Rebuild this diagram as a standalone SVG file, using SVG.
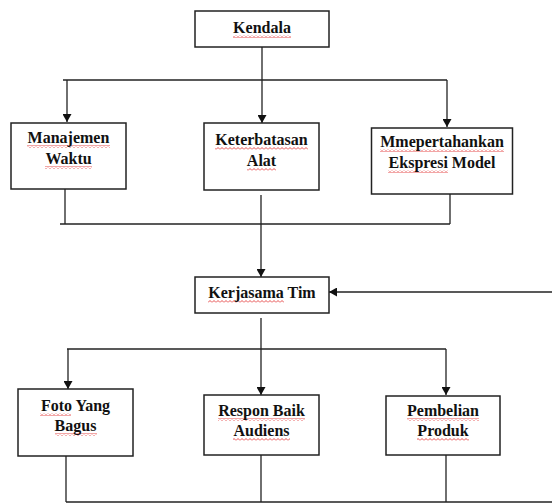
<svg xmlns="http://www.w3.org/2000/svg" width="552" height="503" viewBox="0 0 552 503">
<style>
.box{fill:#fff;stroke:#222;stroke-width:1.5}
.ln{fill:none;stroke:#222;stroke-width:1.3}
text{font-family:'Liberation Serif','Times New Roman','DejaVu Serif',serif;font-weight:700;font-size:16px;fill:#111;text-anchor:middle}
.sq{fill:url(#wave)}
</style>
<defs>
<marker id="ah" markerUnits="userSpaceOnUse" markerWidth="8" markerHeight="9" refX="8" refY="4.5" orient="auto">
<path d="M0,0 L8,4.5 L0,9 z" fill="#111"/>
</marker>
<pattern id="wave" patternUnits="userSpaceOnUse" width="4" height="3">
<path d="M0,2.5 L2,0.5 L4,2.5" fill="none" stroke="#e02020" stroke-width="0.8"/>
</pattern>
</defs>
<rect width="552" height="503" fill="#fff"/>
<g id="connectors">
<path class="ln" d="M262,47 V80"/>
<path class="ln" d="M63,80 H447"/>
<path class="ln" d="M67,80 V122" marker-end="url(#ah)"/>
<path class="ln" d="M262,80 V123" marker-end="url(#ah)"/>
<path class="ln" d="M447,80 V127" marker-end="url(#ah)"/>
<path class="ln" d="M65,189 V224"/>
<path class="ln" d="M450,194 V224"/>
<path class="ln" d="M60,224 H450"/>
<path class="ln" d="M261,195 V277" marker-end="url(#ah)"/>
<path class="ln" d="M552,292 H329" marker-end="url(#ah)"/>
<path class="ln" d="M261,318 V395" marker-end="url(#ah)"/>
<path class="ln" d="M67,349 H446"/>
<path class="ln" d="M68,349 V389" marker-end="url(#ah)"/>
<path class="ln" d="M446,349 V395" marker-end="url(#ah)"/>
<path class="ln" d="M66,456 V502"/>
<path class="ln" d="M261,455 V502"/>
<path class="ln" d="M446,455 V502"/>
<path class="ln" d="M66,502 H552"/>
</g>
<g id="kendala">
<rect class="box" x="195" y="11" width="134" height="36"/>
<rect class="sq" x="233" y="35" width="58" height="3"/>
<text x="262" y="33" font-family="Liberation Serif, serif">Kendala</text>
</g>
<g id="manajemen-waktu">
<rect class="box" x="11" y="123" width="115" height="66"/>
<rect class="sq" x="27" y="145" width="83" height="3"/>
<rect class="sq" x="45" y="166" width="47" height="3"/>
<text x="68.5" y="143">Manajemen</text>
<text x="68.5" y="164">Waktu</text>
</g>
<g id="keterbatasan-alat">
<rect class="box" x="204" y="123" width="115" height="67"/>
<rect class="sq" x="215" y="147" width="93" height="3"/>
<rect class="sq" x="247" y="168" width="29" height="3"/>
<text x="261.5" y="145">Keterbatasan</text>
<text x="261.5" y="166">Alat</text>
</g>
<g id="mmepertahankan">
<rect class="box" x="371.5" y="128" width="141" height="66"/>
<rect class="sq" x="380" y="149" width="124" height="3"/>
<rect class="sq" x="388" y="170" width="60" height="3"/>
<text x="442" y="147">Mmepertahankan</text>
<text x="442" y="168">Ekspresi Model</text>
</g>
<g id="kerjasama-tim">
<rect class="box" x="195" y="277" width="134" height="36"/>
<rect class="sq" x="208" y="300" width="76" height="3"/>
<text x="262" y="298">Kerjasama Tim</text>
</g>
<g id="foto-yang-bagus">
<rect class="box" x="18" y="389" width="115" height="67"/>
<rect class="sq" x="40" y="413" width="31" height="3"/>
<rect class="sq" x="55" y="433" width="42" height="3"/>
<text x="75.5" y="411">Foto Yang</text>
<text x="75.5" y="431">Bagus</text>
</g>
<g id="respon-baik-audiens">
<rect class="box" x="204" y="395" width="115" height="60"/>
<rect class="sq" x="218" y="418" width="87" height="3"/>
<rect class="sq" x="233" y="438" width="57" height="3"/>
<text x="261.5" y="416">Respon Baik</text>
<text x="261.5" y="436">Audiens</text>
</g>
<g id="pembelian-produk">
<rect class="box" x="386" y="396" width="114" height="59"/>
<rect class="sq" x="407" y="418" width="72" height="3"/>
<rect class="sq" x="417" y="438" width="52" height="3"/>
<text x="443" y="416">Pembelian</text>
<text x="443" y="436">Produk</text>
</g>
</svg>
